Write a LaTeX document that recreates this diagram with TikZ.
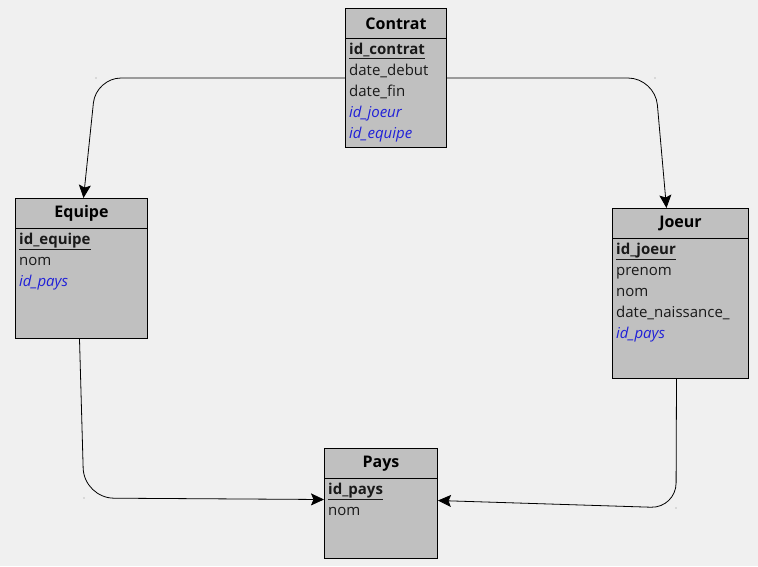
\documentclass[tikz,border=0pt]{standalone}
\usepackage{fontspec}
\setmainfont{Open Sans}
\usetikzlibrary{arrows.meta,positioning}

\definecolor{fond}{HTML}{F0F0F0}
\definecolor{boite}{HTML}{C0C0C0}
\definecolor{etr}{HTML}{2020D8}

\tikzset{
  table/.style={draw, fill=boite, line width=1pt, anchor=north west, inner sep=0pt},
  titre/.style={font=\bfseries\fontsize{16}{18}\selectfont, inner sep=0pt},
  champ/.style={anchor=west, inner sep=0pt, text height=11pt, text depth=4pt,
    text=black!90, font=\fontsize{15}{17}\selectfont},
  etranger/.style={champ, text=etr, font=\itshape\fontsize{15}{17}\selectfont},
  lien/.style={-{Stealth[length=13pt,width=12pt,inset=2.5pt]}, line width=0.8pt},
  coin/.style={fill=black!45},
}
\newcommand{\cle}[1]{\underline{\textbf{#1}}}

\begin{document}
\begin{tikzpicture}[x=1pt,y=-1pt] %Schéma relationnel
  \fill[fond] (0,0) rectangle (758,566);
  \useasboundingbox (0,0) rectangle (758,566);

  % Contrat
  \node[table, minimum width=101pt, minimum height=139pt] (contrat) at (345,8) {};
  \draw[line width=1pt] ([yshift=-30pt]contrat.north west) -- ([yshift=-30pt]contrat.north east);
  \node[titre] (contrat-t) at ([yshift=-15.5pt]contrat.north) {Contrat};
  \node[champ] (contrat-1) at ([xshift=4pt,yshift=-42.5pt]contrat.north west) {\cle{id\_contrat}};
  \node[champ] (contrat-2) at ([yshift=-21pt]contrat-1.west) {date\_debut};
  \node[champ] (contrat-3) at ([yshift=-21pt]contrat-2.west) {date\_fin};
  \node[etranger] (contrat-4) at ([yshift=-21pt]contrat-3.west) {id\_joeur};
  \node[etranger] (contrat-5) at ([yshift=-21pt]contrat-4.west) {id\_equipe};

  % Equipe
  \node[table, minimum width=132pt, minimum height=140pt] (equipe) at (15,198) {};
  \draw[line width=1pt] ([yshift=-30pt]equipe.north west) -- ([yshift=-30pt]equipe.north east);
  \node[titre] (equipe-t) at ([yshift=-15.5pt]equipe.north) {Equipe};
  \node[champ] (equipe-1) at ([xshift=4pt,yshift=-43pt]equipe.north west) {\cle{id\_equipe}};
  \node[champ] (equipe-2) at ([yshift=-21pt]equipe-1.west) {nom};
  \node[etranger] (equipe-3) at ([yshift=-21pt]equipe-2.west) {id\_pays};

  % Joeur
  \node[table, minimum width=136pt, minimum height=170pt] (joeur) at (612,208) {};
  \draw[line width=1pt] ([yshift=-30pt]joeur.north west) -- ([yshift=-30pt]joeur.north east);
  \node[titre] (joeur-t) at ([yshift=-15.5pt]joeur.north) {Joeur};
  \node[champ] (joeur-1) at ([xshift=4pt,yshift=-43pt]joeur.north west) {\cle{id\_joeur}};
  \node[champ] (joeur-2) at ([yshift=-21pt]joeur-1.west) {prenom};
  \node[champ] (joeur-3) at ([yshift=-21pt]joeur-2.west) {nom};
  \node[champ] (joeur-4) at ([yshift=-21pt]joeur-3.west) {date\_naissance\_};
  \node[etranger] (joeur-5) at ([yshift=-21pt]joeur-4.west) {id\_pays};

  % Pays
  \node[table, minimum width=113pt, minimum height=110pt] (pays) at (324,448) {};
  \draw[line width=1pt] ([yshift=-30pt]pays.north west) -- ([yshift=-30pt]pays.north east);
  \node[titre] (pays-t) at ([yshift=-15.5pt]pays.north) {Pays};
  \node[champ] (pays-1) at ([xshift=4pt,yshift=-43pt]pays.north west) {\cle{id\_pays}};
  \node[champ] (pays-2) at ([yshift=-21pt]pays-1.west) {nom};

  % coins des liens
  \coordinate (A) at (96,78);
  \coordinate (B) at (655,78);
  \coordinate (C) at (84,498);
  \coordinate (D) at (676,508);

  \draw[lien, rounded corners=25pt] (contrat.west) -- (A) -- ([xshift=2pt]equipe.north);
  \draw[lien, rounded corners=27pt] (contrat.east) -- (B) -- ([xshift=-14pt]joeur.north);
  \draw[lien, rounded corners=30pt] ([xshift=-2pt]equipe.south) -- (C) -- ([yshift=4pt]pays.west);
  \draw[lien, rounded corners=25pt] ([xshift=-4pt]joeur.south) -- (D) -- ([yshift=3pt]pays.east);

  \fill[coin] (A) circle (0.6pt);
  \fill[coin] (B) circle (0.6pt);
  \fill[coin] (C) circle (0.6pt);
  \fill[coin] (D) circle (0.6pt);
\end{tikzpicture}
\end{document}
